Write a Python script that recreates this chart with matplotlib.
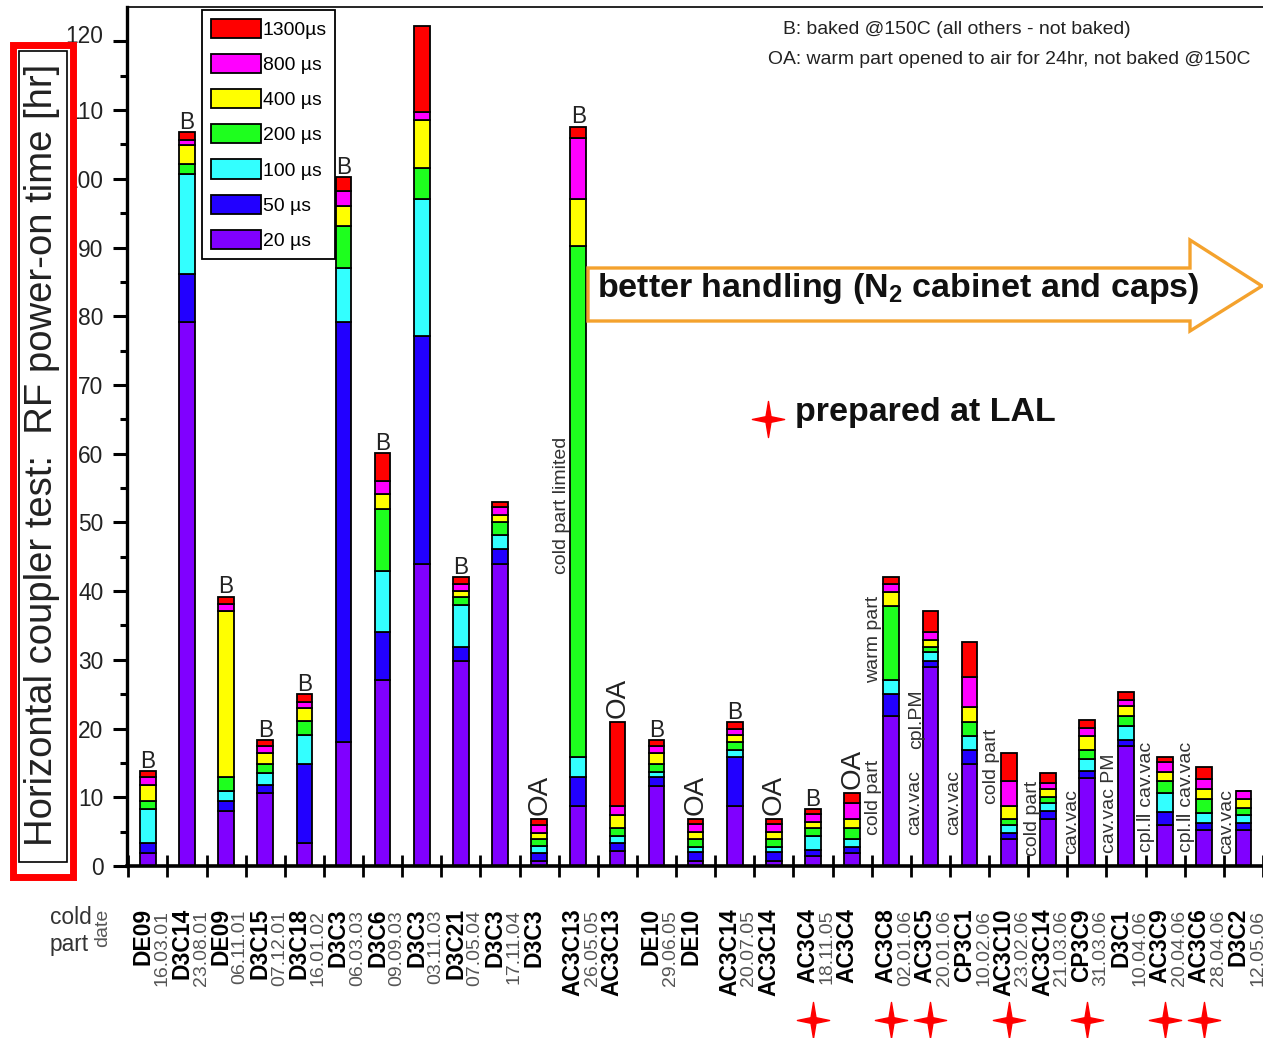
import matplotlib
matplotlib.use('Agg')
import matplotlib.pyplot as plt
from matplotlib import font_manager
from matplotlib.patches import Rectangle, Polygon
from matplotlib.path import Path
from matplotlib.transforms import ScaledTranslation, Affine2D
import numpy as np

# ---------------- data ----------------
parts = ['DE09', 'D3C14', 'DE09', 'D3C15', 'D3C18', 'D3C3', 'D3C6', 'D3C3', 'D3C21', 'D3C3',
         'D3C3', 'AC3C13', 'AC3C13', 'DE10', 'DE10', 'AC3C14', 'AC3C14', 'AC3C4', 'AC3C4',
         'AC3C8', 'AC3C5', 'CP3C1', 'AC3C10', 'AC3C14', 'CP3C9', 'D3C1', 'AC3C9', 'AC3C6', 'D3C2']
dates = ['16.03.01', '23.08.01', '06.11.01', '07.12.01', '16.01.02', '06.03.03', '09.09.03',
         '03.11.03', '07.05.04', '17.11.04', '', '26.05.05', '', '29.06.05', '', '20.07.05', '',
         '18.11.05', '', '02.01.06', '20.01.06', '10.02.06', '23.02.06', '21.03.06', '31.03.06',
         '10.04.06', '20.04.06', '28.04.06', '12.05.06']
s20 = [1.9, 79.1, 8.0, 10.6, 3.3, 18.1, 27.0, 43.9, 29.9, 43.9, 0.8, 8.8, 2.2, 11.7, 0.8, 8.8,
       0.8, 1.4, 1.9, 21.8, 29.0, 14.8, 3.9, 6.8, 12.8, 17.5, 6.0, 5.3, 5.3]
s50 = [1.5, 7.0, 1.5, 1.2, 11.6, 61.1, 7.0, 33.2, 2.0, 2.2, 1.1, 4.1, 1.2, 1.3, 1.3, 7.0,
       1.2, 0.9, 0.9, 3.2, 0.9, 2.1, 0.9, 1.2, 1.0, 0.8, 1.9, 0.9, 0.9]
s100 = [4.9, 14.6, 1.4, 1.7, 4.1, 7.8, 8.9, 19.9, 6.1, 2.0, 1.0, 2.9, 0.9, 0.7, 0.7, 1.1,
        0.8, 2.0, 1.1, 2.1, 1.2, 2.0, 1.1, 1.1, 1.7, 2.1, 2.7, 1.5, 1.2]
s200 = [1.1, 1.5, 2.0, 1.4, 2.1, 6.1, 9.1, 4.6, 1.2, 2.0, 1.0, 74.4, 1.2, 1.2, 1.1, 1.2,
        1.1, 1.2, 1.6, 10.8, 0.8, 2.0, 0.9, 0.9, 1.4, 1.4, 1.7, 2.0, 1.1]
s400 = [2.4, 2.7, 24.2, 1.5, 1.9, 3.0, 2.1, 6.9, 0.8, 1.0, 0.9, 6.8, 1.9, 1.5, 1.0, 0.9,
        1.0, 0.9, 1.3, 2.0, 1.0, 2.3, 1.9, 1.2, 2.0, 1.5, 1.4, 1.5, 1.2]
s800 = [1.2, 0.8, 1.0, 1.1, 0.9, 2.1, 1.9, 1.2, 1.1, 1.1, 1.2, 9.0, 1.4, 1.1, 1.2, 1.0,
        1.2, 1.1, 2.3, 1.2, 1.1, 4.3, 3.6, 0.9, 1.2, 0.8, 1.5, 1.4, 1.2]
s1300 = [0.8, 1.1, 1.1, 0.8, 1.1, 2.0, 4.1, 12.5, 0.9, 0.7, 0.8, 1.6, 12.1, 0.8, 0.7, 0.9,
         0.7, 0.8, 1.5, 0.9, 3.1, 5.1, 4.1, 1.4, 1.1, 1.2, 0.6, 1.8, 0.0]
series_labels = ['20 µs', '50 µs', '100 µs', '200 µs', '400 µs', '800 µs', '1300µs']
tags = ['B', 'B', 'B', 'B', 'B', 'B', 'B', '', 'B', '', 'OA', 'B', 'OA', 'B', 'OA', 'B', 'OA',
        'B', 'OA', '', '', '', '', '', '', '', '', '', '']
lal_parts = [17, 19, 20, 22, 24, 26, 27]
# side notes: (text, x in data units, y centre in hours)
notes = [('cold part limited', 10.57, 52.5), ('warm part', 18.54, 33.0), ('cold part', 18.55, 10.0),
         ('cpl.PM', 19.64, 21.4), ('cav.vac', 19.6, 9.3), ('cav.vac', 20.6, 9.3),
         ('cold part', 21.57, 14.5), ('cold part', 22.6, 7.0), ('cav.vac', 23.6, 6.4),
         ('cav.vac PM', 24.57, 9.2), ('cpl.\u2161 cav.vac', 25.52, 10.0),
         ('cpl.\u2161 cav.vac', 26.54, 10.0), ('cav.vac', 27.57, 6.4)]


def has_font(name):
    try:
        font_manager.findfont(font_manager.FontProperties(family=name), fallback_to_default=False)
        return True
    except Exception:
        return False


REG = 'Liberation Sans' if has_font('Liberation Sans') else 'DejaVu Sans'
if has_font('Liberation Sans Narrow'):
    NARROW, nscale = 'Liberation Sans Narrow', 1.0
else:
    NARROW, nscale = REG, 0.82

plt.rcParams['font.family'] = [REG, 'DejaVu Sans']
plt.rcParams['mathtext.fontset'] = 'custom'
plt.rcParams['mathtext.rm'] = REG
plt.rcParams['mathtext.bf'] = REG + ':bold'

W, H = 1263, 1038
fig = plt.figure(figsize=(W / 100, H / 100), dpi=100)


def fx(px):
    return px / W


def fy(py):
    return 1 - py / H


ax = fig.add_axes([127 / W, 1 - 866 / H, 1136 / W, 859 / H])

x = np.arange(len(parts))
series = [s20, s50, s100, s200, s400, s800, s1300]
colors = ['#8000ff', '#2200ff', '#33ffff', '#1eff1e', '#ffff00', '#ff00ff', '#ff0000']
bottom = np.zeros(len(parts))
handles = []
for s, c, l in zip(series, colors, series_labels):
    h = ax.bar(x, s, 0.4, bottom=bottom, color=c, edgecolor='black', linewidth=1.3,
               label=l, zorder=2)
    handles.append(h)
    bottom += np.array(s)
totals = bottom

ax.set_xlim(-0.534, 28.33)
ax.set_ylim(0, 125)
ax.spines['right'].set_visible(False)
ax.spines['left'].set_linewidth(2.4)
ax.spines['bottom'].set_linewidth(2.6)
ax.spines['top'].set_linewidth(1.2)
ax.set_xticks(np.arange(-0.5, 28.6, 1.0))
ax.set_xticklabels([])
ax.tick_params(axis='x', direction='inout', length=16, width=2)
ax.set_yticks(np.arange(0, 121, 10))
ax.set_yticks(np.arange(5, 121, 10), minor=True)
ax.tick_params(axis='y', which='major', direction='out', length=10, width=2.2,
               labelsize=20 * nscale, pad=7, labelcolor='#222222', labelfontfamily=NARROW)
ax.tick_params(axis='y', which='minor', direction='out', length=5, width=2.2)

# legend
lfs = 17 * nscale
lpx = lfs * 100 / 72
leg = ax.legend(handles[::-1], series_labels[::-1], loc='upper left',
                bbox_to_anchor=((202 - 127) / 1136, (866 - 10) / 859), borderaxespad=0,
                prop={'family': NARROW, 'size': lfs}, handlelength=50 / lpx,
                handleheight=22 / lpx, labelspacing=0.78, borderpad=0.45,
                handletextpad=0.1, fancybox=False, framealpha=1, edgecolor='black')
leg.get_frame().set_linewidth(1.3)

# tags above bars
for i, t in enumerate(tags):
    if t == 'B':
        ax.text(x[i], totals[i] + 0.5, 'B', ha='center', va='baseline',
                fontsize=18 * nscale + 1.5, family=NARROW, color='#222222', zorder=3)
    elif t == 'OA':
        ax.text(x[i], totals[i] + 0.6, 'OA', ha='center', va='bottom', rotation=90,
                fontsize=20, color='#222222', zorder=3)

for t, nx, ny in notes:
    ax.text(nx, ny, t, rotation=90, ha='center', va='center', fontsize=14,
            color='#333333', zorder=3)

# category labels
xt = ax.get_xaxis_transform()
for i, (p, d) in enumerate(zip(parts, dates)):
    ax.text(x[i] - 0.13, -0.049, p, transform=xt, rotation=90, ha='center', va='top',
            fontsize=16.5, fontweight='bold', clip_on=False)
    if d:
        ax.text(x[i] + 0.36, -0.051, d, transform=xt, rotation=90, ha='center', va='top',
                fontsize=14, color='#555555', clip_on=False)

# LAL stars
star = Path.unit_regular_star(4, 0.22)
star = star.transformed(Affine2D().scale(1.0, 1.12))
ax.plot(x[lal_parts], [-0.1793] * len(lal_parts), transform=xt, linestyle='none',
        marker=star, markersize=26, color='red', clip_on=False)
ax.plot([fx(768)], [fy(419)], transform=fig.transFigure, linestyle='none', marker=star,
        markersize=26, color='red', clip_on=False)
fig.text(fx(795), fy(413), 'prepared at LAL', ha='left', va='center', fontsize=24.5,
         fontweight='bold', color='#111111')

# arrow
arrow_px = [(588, 268), (1190, 268), (1190, 240), (1262, 286), (1190, 331), (1190, 321),
            (588, 321)]
fig.add_artist(Polygon([(fx(a), fy(b)) for a, b in arrow_px], closed=True,
                       transform=fig.transFigure, facecolor='white', edgecolor='#f4a22d',
                       linewidth=2.4, zorder=3))
fig.text(fx(597), fy(288), r'better handling (N$_\mathbf{2}$ cabinet and caps)', ha='left',
         va='center', fontsize=24.5, fontweight='bold', color='#111111', zorder=4)

# notes top right
fig.text(fx(783), fy(30), 'B: baked @150C (all others - not baked)', ha='left', va='center',
         fontsize=17 * nscale, family=NARROW, color='#222222')
fig.text(fx(768), fy(60), 'OA: warm part opened to air for 24hr, not baked @150C', ha='left',
         va='center', fontsize=17 * nscale, family=NARROW, color='#222222')

# cold part / date
fig.text(fx(50), fy(917), 'cold', ha='left', va='center', fontsize=20 * nscale, family=NARROW,
         color='#333333')
fig.text(fx(50), fy(944), 'part', ha='left', va='center', fontsize=20 * nscale, family=NARROW,
         color='#333333')
fig.text(fx(103), fy(928), 'date', ha='center', va='center', rotation=90, fontsize=14,
         color='#555555')

# y-label box
fig.add_artist(Rectangle((fx(13.5), fy(877)), fx(73) - fx(13.5), fy(45) - fy(877),
                         transform=fig.transFigure, facecolor='white', edgecolor='red',
                         linewidth=5, zorder=3))
fig.add_artist(Rectangle((fx(19), fy(862)), fx(67) - fx(19), fy(51) - fy(862),
                         transform=fig.transFigure, facecolor='none', edgecolor='black',
                         linewidth=1.2, zorder=4))
fig.text(fx(42), fy(455), 'Horizontal coupler test:  RF power-on time [hr]', rotation=90,
         ha='center', va='center', fontsize=27.5, color='#222222', zorder=5)

# lift the top tick label a little above the box
tk = ax.yaxis.get_major_ticks()[-1]
tk.label1.set_transform(tk.label1.get_transform() + ScaledTranslation(0, 0.07, fig.dpi_scale_trans))

fig.savefig('out.png', dpi=100)
